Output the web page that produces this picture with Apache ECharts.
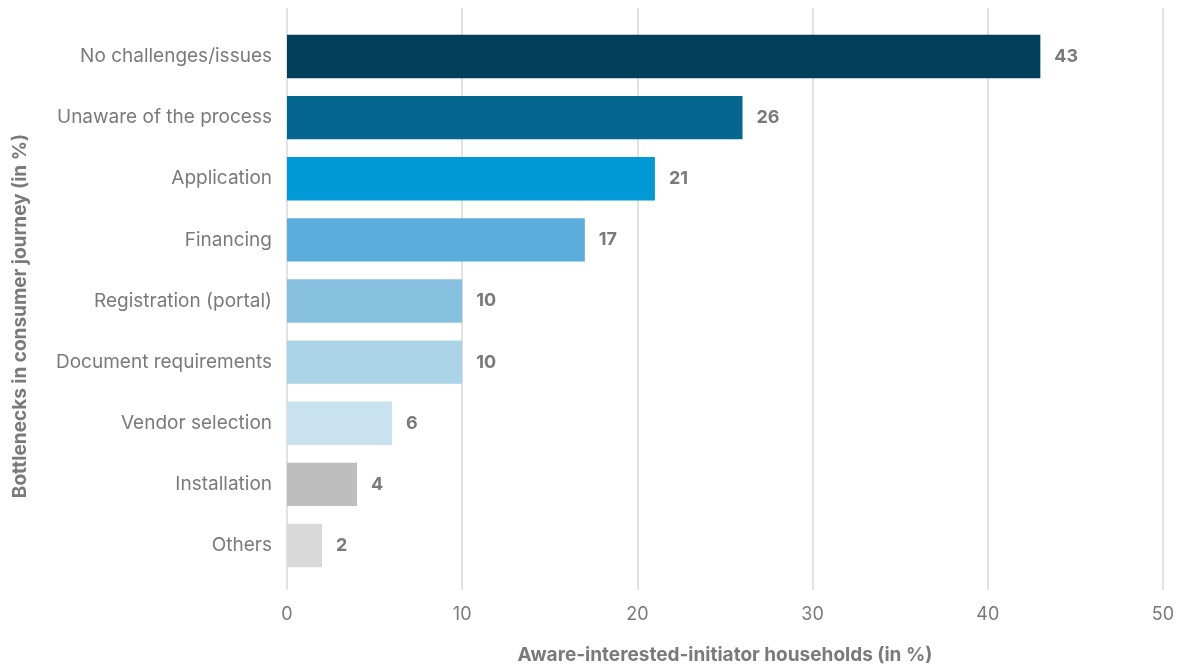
<!DOCTYPE html>
<html>
<head>
<meta charset="utf-8">
<script src="https://cdn.jsdelivr.net/npm/echarts@6/dist/echarts.min.js"></script>
<style>
  html, body { margin: 0; padding: 0; background: #ffffff; }
  #chart { width: 1179px; height: 668px; }
</style>
</head>
<body>
<div id="chart"></div>
<script>
// Bottleneck categories, top to bottom
const categories = [
  'No challenges/issues',
  'Unaware of the process',
  'Application',
  'Financing',
  'Registration (portal)',
  'Document requirements',
  'Vendor selection',
  'Installation',
  'Others'
];
// Share of aware-interested-initiator households (in %)
const values = [43, 26, 21, 17, 10, 10, 6, 4, 2];
const barColors = ['#033e5b', '#05668f', '#0099d5', '#5baedb', '#87c0df', '#aad3e7', '#c8e2f0', '#bebebe', '#d9d9d9'];
const xTicks = { min: 0, max: 50, interval: 10 };

const font = 'Inter, "Noto Sans", sans-serif';
const grey = '#7a7a7a';

const chart = echarts.init(document.getElementById('chart'));
chart.setOption({
  backgroundColor: '#ffffff',
  animation: false,
  grid: [
    // bars
    { left: 287, right: 16, top: 26, bottom: 92, outerBoundsMode: 'none', containLabel: false },
    // gridlines + tick labels, slightly taller than the bar area
    { left: 287, right: 16, top: 8, bottom: 78, outerBoundsMode: 'none', containLabel: false }
  ],
  xAxis: [
    {
      gridIndex: 0, type: 'value', min: xTicks.min, max: xTicks.max, interval: xTicks.interval,
      axisLine: { show: false }, axisTick: { show: false }, axisLabel: { show: false },
      splitLine: { show: false }
    },
    {
      gridIndex: 1, type: 'value', min: xTicks.min, max: xTicks.max, interval: xTicks.interval,
      axisLine: { show: false }, axisTick: { show: false },
      axisLabel: { color: grey, fontFamily: font, fontSize: 18, margin: 16 },
      splitLine: { show: true, lineStyle: { color: '#d9d9d9', width: 1.5 } },
      name: 'Aware-interested-initiator households (in %)',
      nameLocation: 'middle', nameGap: 56,
      nameTextStyle: { color: grey, fontFamily: font, fontSize: 19, fontWeight: 'bold' }
    }
  ],
  yAxis: [
    {
      gridIndex: 0, type: 'category', data: categories, inverse: true,
      axisLine: { show: false }, axisTick: { show: false },
      axisLabel: { color: grey, fontFamily: font, fontSize: 19, margin: 15 },
      name: 'Bottlenecks in consumer journey (in %)',
      nameLocation: 'middle', nameGap: 257,
      nameTextStyle: { color: grey, fontFamily: font, fontSize: 19, fontWeight: 'bold', padding: [0, 30, 0, 0] }
    },
    {
      gridIndex: 1, type: 'category', data: categories, show: false
    }
  ],
  series: [
    {
      type: 'bar',
      xAxisIndex: 0, yAxisIndex: 0,
      data: values.map((v, i) => ({ value: v, itemStyle: { color: barColors[i] } })),
      barCategoryGap: '29%',
      z: 3,
      label: {
        show: true, position: 'right', distance: 14,
        color: grey, fontFamily: font, fontSize: 18, fontWeight: 'bold'
      }
    }
  ]
});
</script>
</body>
</html>
